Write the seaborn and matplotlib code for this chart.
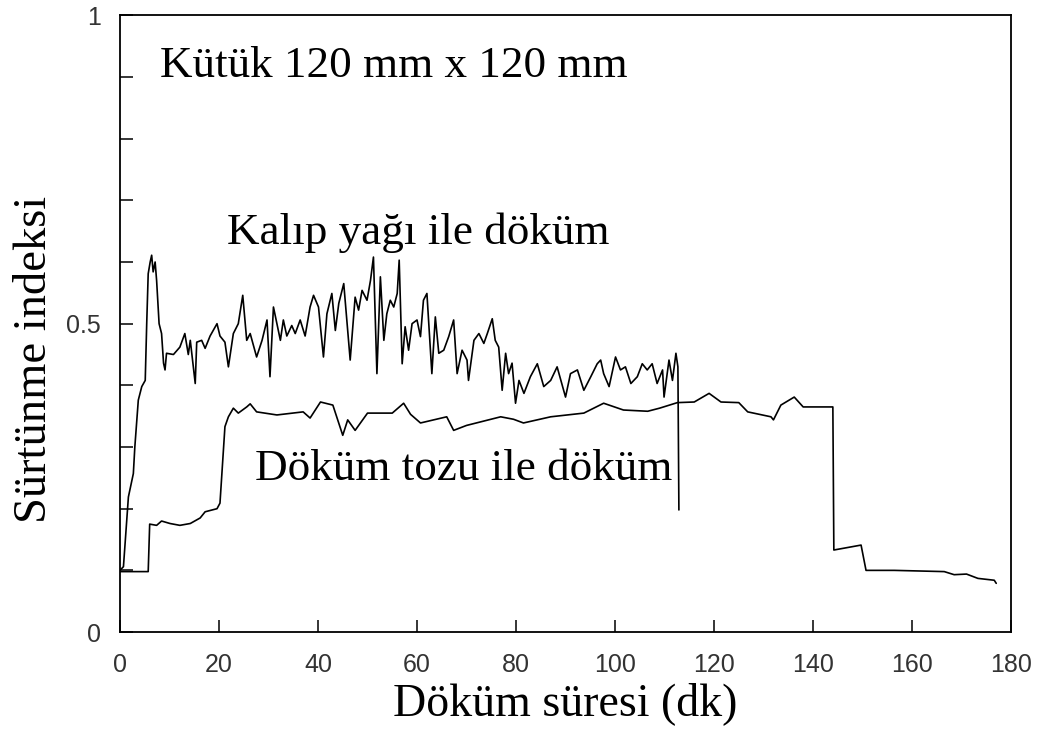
import matplotlib
matplotlib.use("Agg")
import matplotlib.pyplot as plt
from matplotlib.ticker import MultipleLocator, FixedLocator
import numpy as np
import pandas as pd
import seaborn as sns

# Friction index vs. casting time, billet 120 mm x 120 mm
oil_time = [0.0, 0.7, 1.7, 2.7, 3.0, 3.7, 4.4, 5.1, 5.4, 5.7, 6.1, 6.4, 6.7, 7.1, 7.4,
            7.9, 8.4, 8.8, 9.1, 9.4, 10.8, 12.1, 13.1, 13.8, 14.2, 15.2, 15.5, 16.5,
            17.2, 18.2, 19.6, 20.2, 21.2, 21.9, 22.9, 23.9, 24.8, 25.6, 26.3, 27.6,
            28.7, 29.7, 30.3, 31.0, 31.7, 32.4, 33.0, 33.7, 34.7, 35.4, 36.4, 37.4,
            38.4, 39.1, 40.1, 40.5, 41.1, 41.8, 42.8, 43.5, 44.2, 45.2, 46.5, 47.5,
            48.2, 48.9, 49.9, 50.6, 51.2, 51.9, 52.6, 53.3, 53.9, 54.6, 55.3, 56.0,
            56.4, 57.0, 57.6, 58.3, 59.0, 60.0, 60.7, 61.3, 62.0, 63.0, 63.7, 64.4,
            65.4, 66.4, 67.4, 68.1, 69.1, 70.1, 70.4, 71.5, 72.5, 73.5, 74.2, 75.2,
            75.8, 76.5, 77.2, 77.9, 78.5, 79.2, 79.9, 80.6, 81.6, 82.9, 84.3, 85.6,
            87.0, 88.3, 90.0, 91.0, 92.4, 93.7, 95.1, 96.4, 97.1, 97.7, 98.8, 100.1,
            101.1, 102.1, 103.2, 104.5, 105.5, 106.5, 107.5, 108.5, 109.6, 109.9,
            110.9, 111.6, 112.3, 112.7, 112.9]
oil_index = [0.10, 0.106, 0.219, 0.257, 0.30, 0.376, 0.398, 0.408, 0.50, 0.581, 0.60,
             0.611, 0.584, 0.60, 0.57, 0.50, 0.484, 0.436, 0.425, 0.452, 0.45, 0.462,
             0.484, 0.45, 0.473, 0.403, 0.47, 0.473, 0.46, 0.48, 0.50, 0.48, 0.47,
             0.43, 0.484, 0.50, 0.546, 0.473, 0.484, 0.446, 0.473, 0.506, 0.414,
             0.527, 0.50, 0.473, 0.506, 0.48, 0.497, 0.484, 0.506, 0.48, 0.527,
             0.546, 0.527, 0.495, 0.446, 0.516, 0.549, 0.489, 0.533, 0.565, 0.441,
             0.543, 0.522, 0.554, 0.538, 0.57, 0.608, 0.419, 0.576, 0.473, 0.516,
             0.538, 0.527, 0.549, 0.603, 0.435, 0.495, 0.457, 0.50, 0.506, 0.479,
             0.538, 0.549, 0.419, 0.511, 0.452, 0.457, 0.479, 0.506, 0.419, 0.457,
             0.441, 0.408, 0.473, 0.484, 0.468, 0.484, 0.508, 0.473, 0.462, 0.392,
             0.452, 0.419, 0.436, 0.371, 0.408, 0.387, 0.414, 0.435, 0.398, 0.408,
             0.43, 0.381, 0.419, 0.425, 0.392, 0.414, 0.435, 0.441, 0.419, 0.398,
             0.446, 0.425, 0.43, 0.403, 0.414, 0.435, 0.425, 0.435, 0.403, 0.425,
             0.381, 0.441, 0.408, 0.452, 0.43, 0.198]

powder_time = [0.0, 5.7, 6.0, 7.4, 8.4, 10.1, 12.1, 14.2, 16.2, 17.2, 19.6, 20.2, 21.2,
               21.9, 22.9, 23.9, 25.6, 26.3, 27.6, 31.7, 37.0, 38.4, 40.5, 43.0, 45.0,
               46.0, 47.5, 50.0, 55.0, 57.3, 58.7, 60.7, 66.0, 67.4, 70.0, 76.9, 79.5,
               81.5, 87.0, 93.7, 97.7, 101.7, 106.6, 109.0, 112.6, 116.0, 119.0, 121.4,
               125.0, 126.8, 131.5, 132.0, 133.5, 136.2, 138.0, 144.0, 144.2, 149.7,
               150.7, 156.4, 166.5, 168.5, 171.0, 173.3, 176.6, 177.0]
powder_index = [0.098, 0.098, 0.175, 0.173, 0.18, 0.176, 0.173, 0.176, 0.185, 0.195,
                0.20, 0.209, 0.333, 0.349, 0.363, 0.355, 0.365, 0.37, 0.357, 0.352,
                0.357, 0.347, 0.373, 0.368, 0.319, 0.344, 0.327, 0.355, 0.355, 0.371,
                0.353, 0.339, 0.349, 0.327, 0.335, 0.349, 0.345, 0.339, 0.349, 0.355,
                0.371, 0.36, 0.358, 0.363, 0.372, 0.373, 0.387, 0.373, 0.372, 0.357,
                0.349, 0.344, 0.368, 0.381, 0.365, 0.365, 0.133, 0.141, 0.10, 0.10,
                0.098, 0.093, 0.094, 0.087, 0.084, 0.079]

x_ticks = [0, 20, 40, 60, 80, 100, 120, 140, 160, 180]
y_tick_labels = {0.0: "0", 0.5: "0.5", 1.0: "1"}

sns.set_theme(style="ticks")
plt.rcParams["font.family"] = ["Liberation Serif", "DejaVu Serif"]
plt.rcParams["text.color"] = "black"
plt.rcParams["axes.labelcolor"] = "black"

oil_df = pd.DataFrame({"t": oil_time, "v": oil_index})
powder_df = pd.DataFrame({"t": powder_time, "v": powder_index})

fig = plt.figure(figsize=(10.37, 7.29), dpi=100)
ax = fig.add_axes([0.1157, 0.133, 0.8593, 0.846])

sns.lineplot(data=oil_df, x="t", y="v", ax=ax, color="black", linewidth=1.2,
             sort=False, estimator=None)
sns.lineplot(data=powder_df, x="t", y="v", ax=ax, color="black", linewidth=1.2,
             sort=False, estimator=None)

ax.set_xlim(0, 180)
ax.set_ylim(0, 1)
ax.xaxis.set_major_locator(FixedLocator(x_ticks))
ax.yaxis.set_major_locator(MultipleLocator(0.1))
ax.set_xticklabels([str(t) for t in x_ticks])
ax.set_yticklabels([y_tick_labels.get(round(v, 1), "") for v in ax.get_yticks()])

for lab in ax.get_xticklabels() + ax.get_yticklabels():
    lab.set_fontfamily(["Liberation Sans", "DejaVu Sans"])
    lab.set_fontsize(18)
    lab.set_color("#333333")

ax.tick_params(axis="both", direction="in", length=9, width=1.1, color="black",
               top=False, right=False)
ax.tick_params(axis="x", pad=15)
ax.tick_params(axis="y", pad=14)

for s in ax.spines.values():
    s.set_visible(True)
    s.set_color("black")
    s.set_linewidth(1.3)

ax.set_xlabel("Döküm süresi (dk)", fontsize=33, color="black", labelpad=4)
ax.set_ylabel("Sürtünme indeksi", fontsize=33.5, color="black", labelpad=7)
ax.yaxis.label.set_y(0.442)

ax.text(8.1, 0.90, "Kütük 120 mm x 120 mm", fontsize=32.5, ha="left", va="baseline")
ax.text(21.6, 0.63, "Kalıp yağı ile döküm", fontsize=32.5, ha="left", va="baseline")
ax.text(27.3, 0.246, "Döküm tozu ile döküm", fontsize=32.5, ha="left", va="baseline")

fig.savefig("out.png", dpi=100, facecolor="white")
